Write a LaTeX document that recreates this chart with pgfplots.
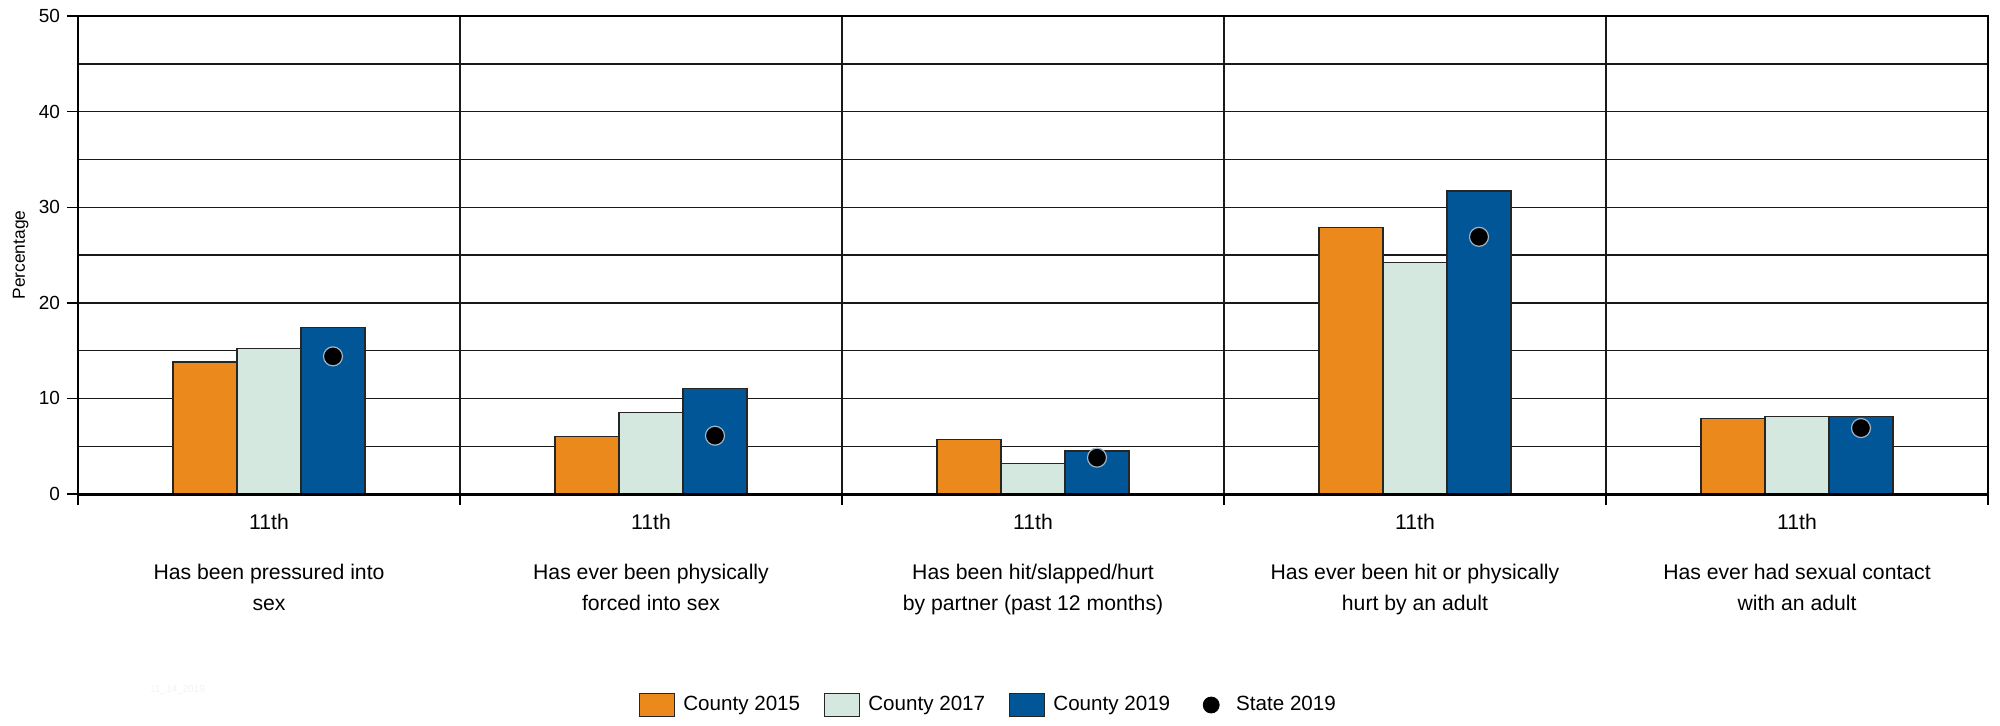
\documentclass[border=0pt]{standalone}
\usepackage{fontspec}
\setmainfont{Liberation Sans}
\usepackage{pgfplots}
\usepackage{pgfplotstable}
\pgfplotsset{compat=1.18}
\definecolor{c15}{RGB}{236,137,29}
\definecolor{c17}{RGB}{213,232,224}
\definecolor{c19}{RGB}{0,86,150}
\definecolor{dotedge}{RGB}{160,180,200}
\pgfplotstableread{
x c15 c17 c19 st
0 13.8 15.2 17.4 14.4
1 6.0 8.5 11.0 6.1
2 5.7 3.2 4.5 3.8
3 27.9 24.2 31.7 26.9
4 7.9 8.1 8.1 6.9
}\data
\newcommand{\catfont}{\fontsize{10.6}{12}\selectfont}
\begin{document}
\begin{tikzpicture}
\path[use as bounding box] (-39pt,-115.5pt) rectangle (961pt,247pt);
\begin{axis}[
  scale only axis, width=955pt, height=239pt,
  at={(0,0)}, anchor=south west, clip=false,
  xmin=-0.5, xmax=4.5, ymin=0, ymax=50,
  xtick={-0.5,0.5,1.5,2.5,3.5,4.5}, xticklabels={},
  ytick={0,10,...,50}, minor ytick={5,15,...,45},
  xmajorgrids, ymajorgrids, yminorgrids,
  major grid style={black!90, line width=0.7pt},
  minor grid style={black!90, line width=0.7pt},
  tick align=outside, tick pos=left,
  major tick length=5.5pt, minor tick length=0pt,
  tick style={black, line width=0.7pt},
  axis line style={black, line width=0.7pt},
  tick label style={font=\fontsize{9.5}{11}\selectfont},
  /pgf/number format/assume math mode=true,
  ylabel={Percentage},
  ylabel style={font=\fontsize{8.7}{10}\selectfont, inner sep=0pt, anchor=south, at={(axis description cs:-0.0257,0.5)}},
  legend columns=4,
  legend cell align=left,
  legend style={draw=none, fill=none, inner sep=0pt, at={(0.4767,0)}, anchor=center, yshift=-105.5pt,
    font=\fontsize{10.3}{12}\selectfont, nodes={inner sep=1pt},
    /tikz/every odd column/.append style={column sep=3pt},
    /tikz/every even column/.append style={column sep=11pt}},
]
\addplot[ybar, bar width=32pt, bar shift=-32pt, fill=c15, draw=black!85, line width=0.6pt,
  legend image code/.code={\draw[fill=c15, draw=black!85, line width=0.6pt] (0pt,-5.75pt) rectangle (17.5pt,5.75pt);}]
  table[x=x, y=c15]{\data};
\addlegendentry{County 2015}
\addplot[ybar, bar width=32pt, bar shift=0pt, fill=c17, draw=black!85, line width=0.6pt,
  legend image code/.code={\draw[fill=c17, draw=black!85, line width=0.6pt] (0pt,-5.75pt) rectangle (17.5pt,5.75pt);}]
  table[x=x, y=c17]{\data};
\addlegendentry{County 2017}
\addplot[ybar, bar width=32pt, bar shift=32pt, fill=c19, draw=black!85, line width=0.6pt,
  legend image code/.code={\draw[fill=c19, draw=black!85, line width=0.6pt] (0pt,-5.75pt) rectangle (17.5pt,5.75pt);}]
  table[x=x, y=c19]{\data};
\addlegendentry{County 2019}
\addplot[only marks, mark=*, mark size=4.75pt, mark options={fill=black, draw=dotedge, line width=0.6pt},
  legend image code/.code={\path[draw=none, fill=none] (0pt,-5.75pt) rectangle (17pt,5.75pt); \fill[black] (8.5pt,0pt) circle (4pt);}]
  table[x expr=\thisrow{x}+0.1675, y=st]{\data};
\addlegendentry{State 2019}
\draw[black, line width=1.5pt] (axis cs:-0.5,0) -- (axis cs:4.5,0);
\draw[black, line width=1pt] (axis cs:-0.5,0) -- (axis cs:-0.5,50);
% group labels
\node[font=\catfont, anchor=base, yshift=-17.5pt] at (axis cs:0,0) {11th};
\node[font=\catfont, anchor=base, yshift=-17.5pt] at (axis cs:1,0) {11th};
\node[font=\catfont, anchor=base, yshift=-17.5pt] at (axis cs:2,0) {11th};
\node[font=\catfont, anchor=base, yshift=-17.5pt] at (axis cs:3,0) {11th};
\node[font=\catfont, anchor=base, yshift=-17.5pt] at (axis cs:4,0) {11th};
\node[font=\catfont, anchor=base, yshift=-42.5pt] at (axis cs:0,0) {Has been pressured into};
\node[font=\catfont, anchor=base, yshift=-58pt] at (axis cs:0,0) {sex};
\node[font=\catfont, anchor=base, yshift=-42.5pt] at (axis cs:1,0) {Has ever been physically};
\node[font=\catfont, anchor=base, yshift=-58pt] at (axis cs:1,0) {forced into sex};
\node[font=\catfont, anchor=base, yshift=-42.5pt] at (axis cs:2,0) {Has been hit/slapped/hurt};
\node[font=\catfont, anchor=base, yshift=-58pt] at (axis cs:2,0) {by partner (past 12 months)};
\node[font=\catfont, anchor=base, yshift=-42.5pt] at (axis cs:3,0) {Has ever been hit or physically};
\node[font=\catfont, anchor=base, yshift=-58pt] at (axis cs:3,0) {hurt by an adult};
\node[font=\catfont, anchor=base, yshift=-42.5pt] at (axis cs:4,0) {Has ever had sexual contact};
\node[font=\catfont, anchor=base, yshift=-58pt] at (axis cs:4,0) {with an adult};
\node[font=\fontsize{5}{6}\selectfont, text=black!5, anchor=base west, xshift=32.5pt, yshift=-99pt] at (axis cs:-0.5,0) {11\_14\_2019};
\end{axis}
\end{tikzpicture}
\end{document}
